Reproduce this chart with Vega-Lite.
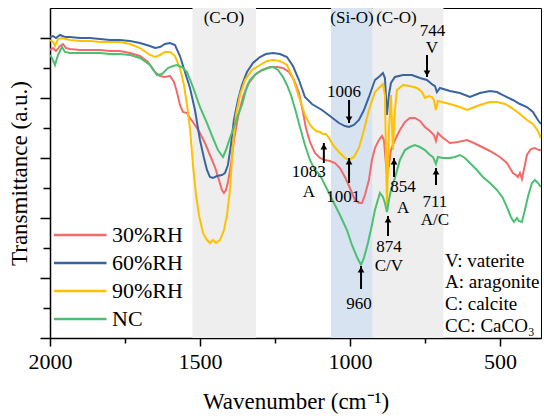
{
"$schema": "https://vega.github.io/schema/vega-lite/v6.json",
"width": 491, "height": 330,
"autosize": {"type": "none"},
"padding": {"left": 50, "top": 8, "right": 3, "bottom": 80},
"background": "white",
"config": {
 "view": {"stroke": "black", "strokeWidth": 1},
 "axis": {"domainColor": "black", "tickColor": "black", "domainWidth": 1.5, "tickWidth": 1.5, "labelColor": "black", "titleColor": "black", "titleFontWeight": "normal", "grid": false, "labelFlush": false}
},
"datasets": {
 "bands": [
  {"a": 1525, "b": 1313, "k": "C-O"},
  {"a": 1063, "b": 924, "k": "Si-O"},
  {"a": 924, "b": 688, "k": "C-O"}
 ],
 "spec": [
  {"s":"30%RH","w":2000,"t":4.8},{"s":"30%RH","w":1990,"t":4.833},{"s":"30%RH","w":1980,"t":4.783},{"s":"30%RH","w":1966.7,"t":4.867},{"s":"30%RH","w":1956.7,"t":4.9},{"s":"30%RH","w":1946.7,"t":4.833},{"s":"30%RH","w":1933.3,"t":4.817},{"s":"30%RH","w":1900,"t":4.8},{"s":"30%RH","w":1866.7,"t":4.8},{"s":"30%RH","w":1833.3,"t":4.8},{"s":"30%RH","w":1800,"t":4.783},{"s":"30%RH","w":1766.7,"t":4.783},{"s":"30%RH","w":1733.3,"t":4.75},{"s":"30%RH","w":1700,"t":4.7},{"s":"30%RH","w":1673.3,"t":4.6},{"s":"30%RH","w":1650,"t":4.433},{"s":"30%RH","w":1633.3,"t":4.367},{"s":"30%RH","w":1616.7,"t":4.35},{"s":"30%RH","w":1600,"t":4.367},{"s":"30%RH","w":1586.7,"t":4.267},{"s":"30%RH","w":1576.7,"t":4.1},{"s":"30%RH","w":1566.7,"t":3.883},{"s":"30%RH","w":1556.7,"t":3.767},{"s":"30%RH","w":1543.3,"t":3.75},{"s":"30%RH","w":1533.3,"t":3.667},{"s":"30%RH","w":1516.7,"t":3.55},{"s":"30%RH","w":1500,"t":3.417},{"s":"30%RH","w":1483.3,"t":3.25},{"s":"30%RH","w":1466.7,"t":3.05},{"s":"30%RH","w":1450,"t":2.85},{"s":"30%RH","w":1436.7,"t":2.633},{"s":"30%RH","w":1426.7,"t":2.467},{"s":"30%RH","w":1420,"t":2.417},{"s":"30%RH","w":1413.3,"t":2.467},{"s":"30%RH","w":1406.7,"t":2.6},{"s":"30%RH","w":1396.7,"t":2.883},{"s":"30%RH","w":1386.7,"t":3.3},{"s":"30%RH","w":1373.3,"t":3.683},{"s":"30%RH","w":1356.7,"t":4.017},{"s":"30%RH","w":1340,"t":4.233},{"s":"30%RH","w":1316.7,"t":4.383},{"s":"30%RH","w":1293.3,"t":4.467},{"s":"30%RH","w":1266.7,"t":4.517},{"s":"30%RH","w":1243.3,"t":4.517},{"s":"30%RH","w":1223.3,"t":4.5},{"s":"30%RH","w":1203.3,"t":4.433},{"s":"30%RH","w":1186.7,"t":4.3},{"s":"30%RH","w":1170,"t":4.083},{"s":"30%RH","w":1156.7,"t":3.767},{"s":"30%RH","w":1146.7,"t":3.5},{"s":"30%RH","w":1133.3,"t":3.267},{"s":"30%RH","w":1116.7,"t":3.083},{"s":"30%RH","w":1100,"t":3.0},{"s":"30%RH","w":1083.3,"t":2.967},{"s":"30%RH","w":1066.7,"t":2.95},{"s":"30%RH","w":1050,"t":2.917},{"s":"30%RH","w":1033.3,"t":2.833},{"s":"30%RH","w":1016.7,"t":2.683},{"s":"30%RH","w":1000,"t":2.5},{"s":"30%RH","w":983.3,"t":2.3},{"s":"30%RH","w":970,"t":2.25},{"s":"30%RH","w":960,"t":2.25},{"s":"30%RH","w":950,"t":2.383},{"s":"30%RH","w":936.7,"t":2.633},{"s":"30%RH","w":926.7,"t":2.967},{"s":"30%RH","w":916.7,"t":3.167},{"s":"30%RH","w":903.3,"t":3.3},{"s":"30%RH","w":893.3,"t":3.367},{"s":"30%RH","w":886.7,"t":3.3},{"s":"30%RH","w":876.7,"t":2.717},{"s":"30%RH","w":870,"t":2.883},{"s":"30%RH","w":863.3,"t":3.133},{"s":"30%RH","w":850,"t":3.3},{"s":"30%RH","w":833.3,"t":3.467},{"s":"30%RH","w":816.7,"t":3.6},{"s":"30%RH","w":800,"t":3.667},{"s":"30%RH","w":783.3,"t":3.667},{"s":"30%RH","w":766.7,"t":3.617},{"s":"30%RH","w":750,"t":3.517},{"s":"30%RH","w":733.3,"t":3.45},{"s":"30%RH","w":720,"t":3.383},{"s":"30%RH","w":713.3,"t":3.283},{"s":"30%RH","w":706.7,"t":3.417},{"s":"30%RH","w":693.3,"t":3.35},{"s":"30%RH","w":666.7,"t":3.25},{"s":"30%RH","w":640,"t":3.267},{"s":"30%RH","w":610,"t":3.3},{"s":"30%RH","w":586.7,"t":3.25},{"s":"30%RH","w":566.7,"t":3.2},{"s":"30%RH","w":533.3,"t":3.117},{"s":"30%RH","w":500,"t":3.017},{"s":"30%RH","w":476.7,"t":2.917},{"s":"30%RH","w":456.7,"t":2.75},{"s":"30%RH","w":446.7,"t":2.717},{"s":"30%RH","w":440,"t":2.683},{"s":"30%RH","w":433.3,"t":2.75},{"s":"30%RH","w":426.7,"t":2.65},{"s":"30%RH","w":416.7,"t":2.883},{"s":"30%RH","w":410,"t":3.05},{"s":"30%RH","w":396.7,"t":3.15},{"s":"30%RH","w":383.3,"t":3.167},{"s":"30%RH","w":370,"t":3.133},{"s":"30%RH","w":363.3,"t":3.133},
  {"s":"60%RH","w":2000,"t":5.017},{"s":"60%RH","w":1990,"t":5.033},{"s":"60%RH","w":1980,"t":5.0},{"s":"60%RH","w":1966.7,"t":5.05},{"s":"60%RH","w":1950,"t":5.017},{"s":"60%RH","w":1933.3,"t":5.017},{"s":"60%RH","w":1900,"t":5.0},{"s":"60%RH","w":1866.7,"t":5.0},{"s":"60%RH","w":1833.3,"t":4.983},{"s":"60%RH","w":1800,"t":4.967},{"s":"60%RH","w":1766.7,"t":4.967},{"s":"60%RH","w":1733.3,"t":4.95},{"s":"60%RH","w":1700,"t":4.917},{"s":"60%RH","w":1666.7,"t":4.867},{"s":"60%RH","w":1650,"t":4.833},{"s":"60%RH","w":1633.3,"t":4.85},{"s":"60%RH","w":1616.7,"t":4.9},{"s":"60%RH","w":1600,"t":4.917},{"s":"60%RH","w":1583.3,"t":4.883},{"s":"60%RH","w":1566.7,"t":4.7},{"s":"60%RH","w":1550,"t":4.433},{"s":"60%RH","w":1533.3,"t":4.167},{"s":"60%RH","w":1516.7,"t":3.8},{"s":"60%RH","w":1500,"t":3.3},{"s":"60%RH","w":1486.7,"t":3.0},{"s":"60%RH","w":1476.7,"t":2.8},{"s":"60%RH","w":1466.7,"t":2.683},{"s":"60%RH","w":1456.7,"t":2.667},{"s":"60%RH","w":1443.3,"t":2.7},{"s":"60%RH","w":1426.7,"t":2.717},{"s":"60%RH","w":1416.7,"t":2.75},{"s":"60%RH","w":1406.7,"t":2.883},{"s":"60%RH","w":1396.7,"t":3.217},{"s":"60%RH","w":1386.7,"t":3.633},{"s":"60%RH","w":1373.3,"t":3.967},{"s":"60%RH","w":1360,"t":4.217},{"s":"60%RH","w":1343.3,"t":4.433},{"s":"60%RH","w":1323.3,"t":4.583},{"s":"60%RH","w":1300,"t":4.683},{"s":"60%RH","w":1280,"t":4.733},{"s":"60%RH","w":1256.7,"t":4.75},{"s":"60%RH","w":1233.3,"t":4.733},{"s":"60%RH","w":1210,"t":4.683},{"s":"60%RH","w":1190,"t":4.533},{"s":"60%RH","w":1170,"t":4.3},{"s":"60%RH","w":1150,"t":4.017},{"s":"60%RH","w":1126.7,"t":3.9},{"s":"60%RH","w":1093.3,"t":3.8},{"s":"60%RH","w":1066.7,"t":3.7},{"s":"60%RH","w":1036.7,"t":3.583},{"s":"60%RH","w":1016.7,"t":3.533},{"s":"60%RH","w":1003.3,"t":3.517},{"s":"60%RH","w":986.7,"t":3.55},{"s":"60%RH","w":970,"t":3.633},{"s":"60%RH","w":953.3,"t":3.8},{"s":"60%RH","w":936.7,"t":4.017},{"s":"60%RH","w":916.7,"t":4.3},{"s":"60%RH","w":900,"t":4.367},{"s":"60%RH","w":890,"t":4.417},{"s":"60%RH","w":883.3,"t":4.333},{"s":"60%RH","w":876.7,"t":3.717},{"s":"60%RH","w":870,"t":4.05},{"s":"60%RH","w":863.3,"t":4.25},{"s":"60%RH","w":850,"t":4.35},{"s":"60%RH","w":823.3,"t":4.383},{"s":"60%RH","w":793.3,"t":4.383},{"s":"60%RH","w":766.7,"t":4.333},{"s":"60%RH","w":743.3,"t":4.3},{"s":"60%RH","w":723.3,"t":4.217},{"s":"60%RH","w":716.7,"t":4.2},{"s":"60%RH","w":710,"t":4.1},{"s":"60%RH","w":700,"t":4.167},{"s":"60%RH","w":666.7,"t":4.117},{"s":"60%RH","w":633.3,"t":4.083},{"s":"60%RH","w":600,"t":4.017},{"s":"60%RH","w":566.7,"t":4.083},{"s":"60%RH","w":533.3,"t":4.117},{"s":"60%RH","w":510,"t":4.1},{"s":"60%RH","w":483.3,"t":4.033},{"s":"60%RH","w":456.7,"t":3.967},{"s":"60%RH","w":433.3,"t":3.9},{"s":"60%RH","w":410,"t":3.85},{"s":"60%RH","w":390,"t":3.767},{"s":"60%RH","w":373.3,"t":3.633},{"s":"60%RH","w":363.3,"t":3.567},
  {"s":"90%RH","w":2000,"t":4.967},{"s":"90%RH","w":1990,"t":4.933},{"s":"90%RH","w":1983.3,"t":4.867},{"s":"90%RH","w":1973.3,"t":4.983},{"s":"90%RH","w":1960,"t":5.0},{"s":"90%RH","w":1933.3,"t":4.967},{"s":"90%RH","w":1900,"t":4.95},{"s":"90%RH","w":1866.7,"t":4.95},{"s":"90%RH","w":1833.3,"t":4.933},{"s":"90%RH","w":1800,"t":4.933},{"s":"90%RH","w":1766.7,"t":4.933},{"s":"90%RH","w":1733.3,"t":4.9},{"s":"90%RH","w":1700,"t":4.833},{"s":"90%RH","w":1666.7,"t":4.717},{"s":"90%RH","w":1650,"t":4.683},{"s":"90%RH","w":1633.3,"t":4.717},{"s":"90%RH","w":1616.7,"t":4.767},{"s":"90%RH","w":1600,"t":4.767},{"s":"90%RH","w":1583.3,"t":4.7},{"s":"90%RH","w":1566.7,"t":4.5},{"s":"90%RH","w":1553.3,"t":4.217},{"s":"90%RH","w":1543.3,"t":3.883},{"s":"90%RH","w":1533.3,"t":3.5},{"s":"90%RH","w":1523.3,"t":2.883},{"s":"90%RH","w":1513.3,"t":2.383},{"s":"90%RH","w":1503.3,"t":2.05},{"s":"90%RH","w":1490,"t":1.75},{"s":"90%RH","w":1476.7,"t":1.633},{"s":"90%RH","w":1466.7,"t":1.583},{"s":"90%RH","w":1456.7,"t":1.633},{"s":"90%RH","w":1446.7,"t":1.583},{"s":"90%RH","w":1433.3,"t":1.633},{"s":"90%RH","w":1420,"t":1.8},{"s":"90%RH","w":1410,"t":2.05},{"s":"90%RH","w":1400,"t":2.467},{"s":"90%RH","w":1390,"t":3.217},{"s":"90%RH","w":1380,"t":3.717},{"s":"90%RH","w":1366.7,"t":4.05},{"s":"90%RH","w":1350,"t":4.3},{"s":"90%RH","w":1326.7,"t":4.467},{"s":"90%RH","w":1300,"t":4.55},{"s":"90%RH","w":1276.7,"t":4.617},{"s":"90%RH","w":1256.7,"t":4.633},{"s":"90%RH","w":1233.3,"t":4.617},{"s":"90%RH","w":1210,"t":4.55},{"s":"90%RH","w":1190,"t":4.333},{"s":"90%RH","w":1170,"t":4.017},{"s":"90%RH","w":1150,"t":3.717},{"s":"90%RH","w":1133.3,"t":3.55},{"s":"90%RH","w":1113.3,"t":3.45},{"s":"90%RH","w":1100,"t":3.433},{"s":"90%RH","w":1090,"t":3.4},{"s":"90%RH","w":1080,"t":3.4},{"s":"90%RH","w":1070,"t":3.333},{"s":"90%RH","w":1056.7,"t":3.217},{"s":"90%RH","w":1036.7,"t":3.1},{"s":"90%RH","w":1016.7,"t":3.0},{"s":"90%RH","w":1003.3,"t":2.967},{"s":"90%RH","w":986.7,"t":3.017},{"s":"90%RH","w":970,"t":3.167},{"s":"90%RH","w":953.3,"t":3.467},{"s":"90%RH","w":936.7,"t":3.8},{"s":"90%RH","w":916.7,"t":4.1},{"s":"90%RH","w":900,"t":4.183},{"s":"90%RH","w":890,"t":4.233},{"s":"90%RH","w":883.3,"t":4.05},{"s":"90%RH","w":876.7,"t":2.217},{"s":"90%RH","w":870,"t":3.467},{"s":"90%RH","w":863.3,"t":4.05},{"s":"90%RH","w":856.7,"t":3.133},{"s":"90%RH","w":850,"t":3.8},{"s":"90%RH","w":843.3,"t":4.133},{"s":"90%RH","w":823.3,"t":4.217},{"s":"90%RH","w":800,"t":4.2},{"s":"90%RH","w":776.7,"t":4.167},{"s":"90%RH","w":760,"t":4.1},{"s":"90%RH","w":750,"t":4.0},{"s":"90%RH","w":736.7,"t":4.033},{"s":"90%RH","w":726.7,"t":4.017},{"s":"90%RH","w":720,"t":3.967},{"s":"90%RH","w":713.3,"t":3.8},{"s":"90%RH","w":706.7,"t":3.95},{"s":"90%RH","w":693.3,"t":3.933},{"s":"90%RH","w":666.7,"t":3.9},{"s":"90%RH","w":633.3,"t":3.85},{"s":"90%RH","w":610,"t":3.8},{"s":"90%RH","w":593.3,"t":3.833},{"s":"90%RH","w":566.7,"t":3.883},{"s":"90%RH","w":533.3,"t":3.933},{"s":"90%RH","w":510,"t":3.933},{"s":"90%RH","w":483.3,"t":3.9},{"s":"90%RH","w":460,"t":3.833},{"s":"90%RH","w":433.3,"t":3.733},{"s":"90%RH","w":410,"t":3.633},{"s":"90%RH","w":390,"t":3.567},{"s":"90%RH","w":373.3,"t":3.45},{"s":"90%RH","w":363.3,"t":3.333},
  {"s":"NC","w":2000,"t":4.717},{"s":"NC","w":1993.3,"t":4.667},{"s":"NC","w":1983.3,"t":4.55},{"s":"NC","w":1973.3,"t":4.717},{"s":"NC","w":1960,"t":4.85},{"s":"NC","w":1950,"t":4.767},{"s":"NC","w":1933.3,"t":4.75},{"s":"NC","w":1900,"t":4.75},{"s":"NC","w":1866.7,"t":4.75},{"s":"NC","w":1833.3,"t":4.75},{"s":"NC","w":1800,"t":4.733},{"s":"NC","w":1766.7,"t":4.733},{"s":"NC","w":1733.3,"t":4.717},{"s":"NC","w":1700,"t":4.667},{"s":"NC","w":1666.7,"t":4.55},{"s":"NC","w":1643.3,"t":4.383},{"s":"NC","w":1626.7,"t":4.4},{"s":"NC","w":1606.7,"t":4.5},{"s":"NC","w":1590,"t":4.533},{"s":"NC","w":1576.7,"t":4.55},{"s":"NC","w":1560,"t":4.517},{"s":"NC","w":1543.3,"t":4.433},{"s":"NC","w":1523.3,"t":4.183},{"s":"NC","w":1500,"t":3.85},{"s":"NC","w":1476.7,"t":3.583},{"s":"NC","w":1456.7,"t":3.333},{"s":"NC","w":1440,"t":3.133},{"s":"NC","w":1423.3,"t":3.017},{"s":"NC","w":1413.3,"t":3.133},{"s":"NC","w":1400,"t":3.333},{"s":"NC","w":1386.7,"t":3.517},{"s":"NC","w":1373.3,"t":3.717},{"s":"NC","w":1360,"t":3.883},{"s":"NC","w":1346.7,"t":4.133},{"s":"NC","w":1333.3,"t":4.3},{"s":"NC","w":1310,"t":4.417},{"s":"NC","w":1290,"t":4.467},{"s":"NC","w":1273.3,"t":4.5},{"s":"NC","w":1256.7,"t":4.517},{"s":"NC","w":1240,"t":4.467},{"s":"NC","w":1223.3,"t":4.35},{"s":"NC","w":1210,"t":4.217},{"s":"NC","w":1196.7,"t":4.05},{"s":"NC","w":1180,"t":3.767},{"s":"NC","w":1166.7,"t":3.517},{"s":"NC","w":1150,"t":3.217},{"s":"NC","w":1133.3,"t":2.967},{"s":"NC","w":1116.7,"t":2.8},{"s":"NC","w":1100,"t":2.717},{"s":"NC","w":1083.3,"t":2.55},{"s":"NC","w":1066.7,"t":2.383},{"s":"NC","w":1050,"t":2.217},{"s":"NC","w":1033.3,"t":2.05},{"s":"NC","w":1010,"t":1.8},{"s":"NC","w":993.3,"t":1.55},{"s":"NC","w":976.7,"t":1.35},{"s":"NC","w":963.3,"t":1.217},{"s":"NC","w":953.3,"t":1.333},{"s":"NC","w":940,"t":1.583},{"s":"NC","w":926.7,"t":1.883},{"s":"NC","w":916.7,"t":2.133},{"s":"NC","w":900,"t":2.417},{"s":"NC","w":890,"t":2.35},{"s":"NC","w":883.3,"t":2.25},{"s":"NC","w":876.7,"t":2.1},{"s":"NC","w":870,"t":2.3},{"s":"NC","w":863.3,"t":2.467},{"s":"NC","w":850,"t":2.667},{"s":"NC","w":833.3,"t":2.967},{"s":"NC","w":816.7,"t":3.133},{"s":"NC","w":800,"t":3.183},{"s":"NC","w":783.3,"t":3.217},{"s":"NC","w":766.7,"t":3.183},{"s":"NC","w":750,"t":3.133},{"s":"NC","w":733.3,"t":3.05},{"s":"NC","w":723.3,"t":3.017},{"s":"NC","w":713.3,"t":2.9},{"s":"NC","w":706.7,"t":3.017},{"s":"NC","w":690,"t":3.0},{"s":"NC","w":666.7,"t":3.0},{"s":"NC","w":650,"t":3.017},{"s":"NC","w":633.3,"t":3.05},{"s":"NC","w":616.7,"t":3.0},{"s":"NC","w":600,"t":2.917},{"s":"NC","w":576.7,"t":2.8},{"s":"NC","w":556.7,"t":2.683},{"s":"NC","w":533.3,"t":2.583},{"s":"NC","w":510,"t":2.467},{"s":"NC","w":490,"t":2.333},{"s":"NC","w":476.7,"t":2.183},{"s":"NC","w":463.3,"t":2.017},{"s":"NC","w":453.3,"t":1.933},{"s":"NC","w":443.3,"t":2.0},{"s":"NC","w":436.7,"t":1.95},{"s":"NC","w":426.7,"t":1.933},{"s":"NC","w":416.7,"t":2.133},{"s":"NC","w":406.7,"t":2.35},{"s":"NC","w":393.3,"t":2.583},{"s":"NC","w":383.3,"t":2.633},{"s":"NC","w":373.3,"t":2.583},{"s":"NC","w":363.3,"t":2.517}
 ],
 "notes": [
  {"w": 1420, "t": 5.333, "label": "(C-O)"},
  {"w": 993, "t": 5.333, "label": "(Si-O)"},
  {"w": 845, "t": 5.333, "label": "(C-O)"},
  {"w": 725, "t": 5.12, "label": "744"},
  {"w": 727, "t": 4.833, "label": "V"},
  {"w": 1020, "t": 4.1, "label": "1006"},
  {"w": 1137, "t": 2.767, "label": "1083"},
  {"w": 1137, "t": 2.433, "label": "A"},
  {"w": 1022, "t": 2.35, "label": "1001"},
  {"w": 823, "t": 2.517, "label": "854"},
  {"w": 823, "t": 2.167, "label": "A"},
  {"w": 717, "t": 2.267, "label": "711"},
  {"w": 717, "t": 1.967, "label": "A/C"},
  {"w": 870, "t": 1.517, "label": "874"},
  {"w": 870, "t": 1.2, "label": "C/V"},
  {"w": 970, "t": 0.567, "label": "960"}
 ],
 "arrows": [
  {"w": 743, "base": 4.717, "tip": 4.35, "head": 4.41, "dir": "down"},
  {"w": 1003, "base": 3.967, "tip": 3.583, "head": 3.643, "dir": "down"},
  {"w": 1087, "base": 2.917, "tip": 3.25, "head": 3.19, "dir": "up"},
  {"w": 1003, "base": 2.583, "tip": 3.0, "head": 2.94, "dir": "up"},
  {"w": 853, "base": 2.683, "tip": 3.0, "head": 2.94, "dir": "up"},
  {"w": 713, "base": 2.55, "tip": 2.833, "head": 2.773, "dir": "up"},
  {"w": 873, "base": 1.7, "tip": 2.033, "head": 1.973, "dir": "up"},
  {"w": 963, "base": 0.817, "tip": 1.2, "head": 1.14, "dir": "up"}
 ],
 "key": [
  {"w": 683, "t": 1.283, "label": "V: vaterite"},
  {"w": 683, "t": 0.933, "label": "A: aragonite"},
  {"w": 683, "t": 0.567, "label": "C: calcite"},
  {"w": 683, "t": 0.2, "label": "CC: CaCO₃"}
 ]
},
"layer": [
 {
  "data": {"name": "bands"},
  "mark": {"type": "rect"},
  "encoding": {
   "x": {"field": "a", "type": "quantitative", "axis": null, "scale": {"domain": [363, 2000], "reverse": true, "nice": false, "zero": false}},
   "x2": {"field": "b"},
   "fill": {"field": "k", "type": "nominal", "scale": {"domain": ["C-O", "Si-O"], "range": ["#eeeeee", "#d7e3f1"]}, "legend": null}
  }
 },
 {
  "data": {"name": "spec"},
  "mark": {"type": "line", "strokeWidth": 2, "clip": true},
  "encoding": {
   "x": {"field": "w", "type": "quantitative", "scale": {"domain": [363, 2000], "reverse": true, "nice": false, "zero": false},
    "axis": {"values": [2000, 1500, 1000, 500], "format": "d", "tickSize": 8, "labelFont": "Liberation Serif", "labelFontSize": 22, "labelPadding": 5, "title": "Wavenumber (cm⁻¹)", "titleFont": "Liberation Serif", "titleFontWeight": "normal", "titleFontSize": 23, "titlePadding": 18, "orient": "bottom"}},
   "y": {"field": "t", "type": "quantitative", "scale": {"domain": [0, 5.5], "nice": false, "zero": false},
    "axis": {"values": [0, 1, 2, 3, 4, 5], "tickSize": 10, "labels": false, "title": "Transmittance (a.u.)", "titleFont": "Liberation Serif", "titleFontWeight": "normal", "titleFontSize": 23, "titlePadding": 8, "orient": "left"}},
   "color": {"field": "s", "type": "nominal", "sort": ["30%RH", "60%RH", "90%RH", "NC"],
    "scale": {"domain": ["30%RH", "60%RH", "90%RH", "NC"], "range": ["#f26b6b", "#3a64a0", "#ffc000", "#4cbf70"]},
    "legend": {"orient": "none", "legendX": 34, "legendY": 215, "title": null, "symbolType": "M-4,0H1", "symbolSize": 441, "symbolStrokeWidth": 2.5, "labelFont": "Liberation Serif", "labelFontSize": 22, "labelColor": "black", "labelOffset": 4, "rowPadding": 5, "padding": 0}}
  }
 },
 {
  "data": {"name": "arrows"},
  "mark": {"type": "rule", "strokeWidth": 2, "color": "black"},
  "encoding": {
   "x": {"field": "w", "type": "quantitative", "axis": null},
   "y": {"field": "base", "type": "quantitative", "axis": null},
   "y2": {"field": "tip"}
  }
 },
 {
  "data": {"name": "arrows"},
  "mark": {"type": "point", "filled": true, "color": "black", "size": 45, "opacity": 1},
  "encoding": {
   "x": {"field": "w", "type": "quantitative", "axis": null},
   "y": {"field": "head", "type": "quantitative", "axis": null},
   "shape": {"field": "dir", "type": "nominal", "scale": {"domain": ["up", "down"], "range": ["triangle-up", "triangle-down"]}, "legend": null}
  }
 },
 {
  "data": {"name": "notes"},
  "mark": {"type": "text", "font": "Liberation Serif", "fontSize": 17, "color": "black", "align": "center", "baseline": "middle"},
  "encoding": {
   "x": {"field": "w", "type": "quantitative", "axis": {"values": [1750, 1250, 750], "labels": false, "domain": false, "tickSize": 5, "title": null, "orient": "bottom"}},
   "y": {"field": "t", "type": "quantitative", "axis": {"values": [0.5, 1.5, 2.5, 3.5, 4.5], "labels": false, "domain": false, "tickSize": 7, "title": null, "orient": "left"}},
   "text": {"field": "label"}
  }
 },
 {
  "data": {"name": "key"},
  "mark": {"type": "text", "font": "Liberation Serif", "fontSize": 19, "color": "black", "align": "left", "baseline": "middle"},
  "encoding": {
   "x": {"field": "w", "type": "quantitative", "axis": null},
   "y": {"field": "t", "type": "quantitative", "axis": null},
   "text": {"field": "label"}
  }
 }
],
"resolve": {"axis": {"x": "independent", "y": "independent"}}
}
